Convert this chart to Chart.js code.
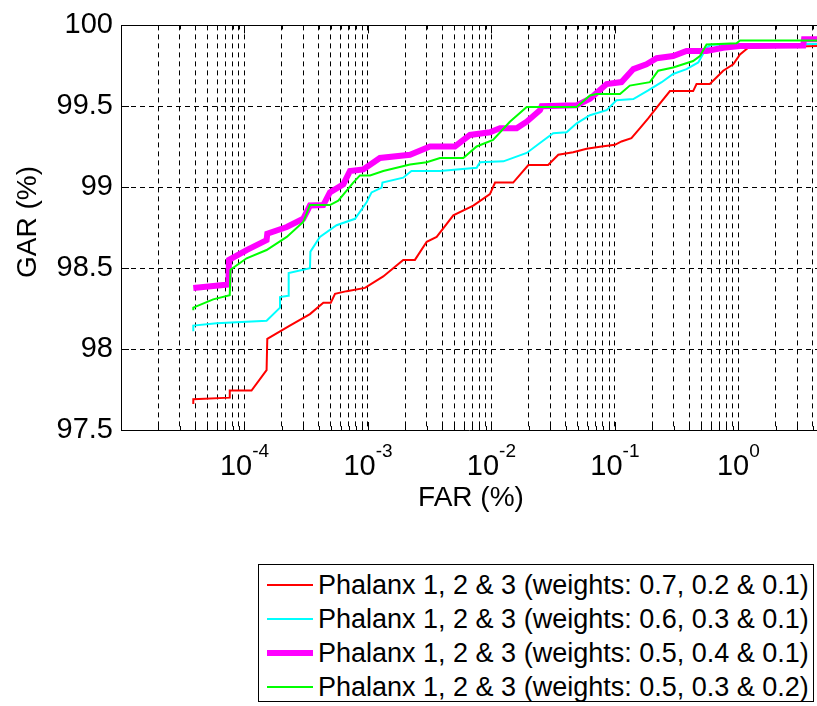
<!DOCTYPE html>
<html>
<head>
<meta charset="utf-8">
<script src="https://cdn.jsdelivr.net/npm/chart.js@4.4.1/dist/chart.umd.min.js"></script>
<style>
  body { margin: 0; background: #fff; }
  #wrap { position: relative; width: 817px; height: 706px; }
  #c { position: absolute; left: 0; top: 0; }
  #legend {
    position: absolute; left: 258px; top: 564px; width: 556px; height: 138px;
    border: 1px solid #000; background: #fff; box-sizing: border-box;
    font-family: "Liberation Sans", Arial, sans-serif; font-size: 27px; color: #000;
    padding-top: 3px;
  }
  .row { display: flex; align-items: center; height: 34px; white-space: nowrap; }
  .swatch { margin-left: 8px; width: 46px; margin-right: 5px; }
</style>
</head>
<body>
<div id="wrap">
  <canvas id="c" width="817" height="706"></canvas>
  <div id="legend"></div>
</div>
<script>
// FAR (%) on a log axis, GAR (%) on a linear axis
var redFar = [3.85e-5, 3.85e-5, 7.6e-5, 7.6e-5, 1.14e-4, 1.51e-4, 1.53e-4, 2.33e-4, 3.39e-4, 4.35e-4, 5.0e-4, 5.41e-4, 6.73e-4, 9.46e-4, 1.33e-3, 1.93e-3, 2.4e-3, 2.99e-3, 3.6e-3, 4.91e-3, 7.13e-3, 9.72e-3, 1.07e-2, 1.5e-2, 1.99e-2, 2.88e-2, 3.48e-2, 4.59e-2, 5.9e-2, 7.8e-2, 0.1, 0.113, 0.136, 0.159, 0.186, 0.231, 0.279, 0.43, 0.458, 0.587, 0.753, 0.908, 1.03, 1.2, 4.33];
var redGar = [97.66, 97.69, 97.70, 97.744, 97.744, 97.87, 98.063, 98.145, 98.216, 98.287, 98.287, 98.341, 98.358, 98.378, 98.449, 98.551, 98.551, 98.663, 98.693, 98.826, 98.887, 98.957, 99.029, 99.029, 99.137, 99.137, 99.201, 99.216, 99.238, 99.252, 99.262, 99.283, 99.303, 99.364, 99.425, 99.516, 99.594, 99.594, 99.638, 99.638, 99.72, 99.76, 99.821, 99.862, 99.872];

var cyanFar = [3.85e-5, 3.85e-5, 5.96e-5, 1.51e-4, 1.94e-4, 1.94e-4, 2.26e-4, 2.28e-4, 3.39e-4, 3.42e-4, 4.08e-4, 5.57e-4, 7.85e-4, 9.75e-4, 1.07e-3, 1.29e-3, 1.31e-3, 1.93e-3, 2.25e-3, 3.83e-3, 7.59e-3, 8.07e-3, 1.25e-2, 1.93e-2, 2.47e-2, 3.16e-2, 4.06e-2, 4.9e-2, 6.28e-2, 8.57e-2, 0.103, 0.141, 0.186, 0.239, 0.296, 0.38, 0.473, 0.552, 0.6, 4.33];
var cyanGar = [98.11, 98.145, 98.159, 98.175, 98.256, 98.321, 98.33, 98.47, 98.5, 98.602, 98.693, 98.765, 98.805, 98.907, 98.968, 98.998, 99.029, 99.059, 99.1, 99.1, 99.12, 99.155, 99.16, 99.212, 99.273, 99.334, 99.34, 99.395, 99.445, 99.476, 99.537, 99.545, 99.598, 99.649, 99.7, 99.73, 99.771, 99.862, 99.88, 99.885];

var magFar = [3.85e-5, 7.4e-5, 7.5e-5, 1.04e-4, 1.51e-4, 1.53e-4, 2.2e-4, 2.99e-4, 3.39e-4, 4.35e-4, 4.92e-4, 6.31e-4, 7.14e-4, 9.16e-4, 1.25e-3, 2.19e-3, 3.18e-3, 5.06e-3, 6.7e-3, 9.72e-3, 1.17e-2, 1.6e-2, 1.93e-2, 2.47e-2, 2.55e-2, 4.9e-2, 6.28e-2, 8.57e-2, 0.113, 0.141, 0.18, 0.218, 0.296, 0.38, 0.552, 0.753, 1.03, 3.35, 3.4, 4.33];
var magGar = [98.378, 98.399, 98.551, 98.612, 98.673, 98.713, 98.754, 98.805, 98.887, 98.89, 98.968, 99.018, 99.1, 99.11, 99.181, 99.201, 99.252, 99.252, 99.323, 99.34, 99.364, 99.364, 99.405, 99.476, 99.5, 99.506, 99.547, 99.638, 99.65, 99.73, 99.76, 99.797, 99.811, 99.842, 99.842, 99.862, 99.872, 99.875, 99.915, 99.915];

var greenFar = [3.85e-5, 3.85e-5, 5.58e-5, 7.6e-5, 7.7e-5, 1.04e-4, 1.51e-4, 2.2e-4, 2.99e-4, 3.39e-4, 4.92e-4, 5.75e-4, 7.6e-4, 8.61e-4, 1.04e-3, 1.33e-3, 2.19e-3, 2.99e-3, 3.83e-3, 5.92e-3, 7.59e-3, 1.03e-2, 1.41e-2, 1.93e-2, 4.9e-2, 6.28e-2, 7.11e-2, 0.11, 0.132, 0.192, 0.224, 0.296, 0.43, 0.488, 0.552, 0.966, 1.03, 4.33];
var greenGar = [98.24, 98.256, 98.307, 98.333, 98.49, 98.561, 98.612, 98.693, 98.785, 98.89, 98.89, 98.917, 99.029, 99.073, 99.073, 99.1, 99.14, 99.155, 99.181, 99.181, 99.252, 99.293, 99.405, 99.496, 99.496, 99.567, 99.576, 99.576, 99.628, 99.649, 99.72, 99.74, 99.78, 99.811, 99.882, 99.89, 99.907, 99.907];

var seriesNames = [
    'Phalanx 1, 2 & 3 (weights: 0.7, 0.2 & 0.1)',
    'Phalanx 1, 2 & 3 (weights: 0.6, 0.3 & 0.1)',
    'Phalanx 1, 2 & 3 (weights: 0.5, 0.4 & 0.1)',
    'Phalanx 1, 2 & 3 (weights: 0.5, 0.3 & 0.2)'
];
var seriesColors = ['#ff0000', '#00ffff', '#ff00ff', '#00ff00'];
var seriesWidths = [2, 2, 6, 2];

var xMin = 1e-5, xMax = 4.33;
var yMin = 97.5, yMax = 100, yStep = 0.5;
var decadeExps = [-4, -3, -2, -1, 0];
var FONT = '"Liberation Sans", Arial, sans-serif';

function pairs(xs, ys) {
    var out = [];
    for (var i = 0; i < xs.length; i++) out.push({ x: xs[i], y: ys[i] });
    return out;
}

var allFar = [redFar, cyanFar, magFar, greenFar];
var allGar = [redGar, cyanGar, magGar, greenGar];
var datasets = [];
for (var i = 0; i < 4; i++) {
    datasets.push({
        label: seriesNames[i],
        data: pairs(allFar[i], allGar[i]),
        borderColor: seriesColors[i],
        backgroundColor: seriesColors[i],
        borderWidth: seriesWidths[i],
        pointRadius: 0,
        tension: 0,
        order: 4 - i
    });
}

// log ticks: 1..9 per decade
function logTicks() {
    var t = [];
    for (var e = -5; e <= 0; e++) {
        for (var m = 1; m <= 9; m++) {
            var v = m * Math.pow(10, e);
            if (v >= xMin && v <= xMax) t.push(v);
        }
    }
    return t;
}

var matlabLook = {
    id: 'matlabLook',
    afterDraw: function (chart) {
        var ctx = chart.ctx, a = chart.chartArea;
        var xs = chart.scales.x, ys = chart.scales.y;
        ctx.save();
        ctx.strokeStyle = '#000';
        ctx.lineWidth = 1;
        ctx.setLineDash([]);
        // top box line
        ctx.beginPath();
        ctx.moveTo(a.left, Math.round(a.top) + 0.5);
        ctx.lineTo(a.right, Math.round(a.top) + 0.5);
        ctx.stroke();
        // inward tick marks
        logTicks().forEach(function (v) {
            var px = Math.round(xs.getPixelForValue(v)) + 0.5;
            var major = Math.abs(Math.log10(v) - Math.round(Math.log10(v))) < 1e-9;
            var len = major ? 8 : 4;
            ctx.beginPath();
            ctx.moveTo(px, a.bottom); ctx.lineTo(px, a.bottom - len);
            ctx.moveTo(px, a.top); ctx.lineTo(px, a.top + len);
            ctx.stroke();
        });
        for (var g = yMin; g <= yMax + 1e-9; g += yStep) {
            var py = Math.round(ys.getPixelForValue(g)) + 0.5;
            ctx.beginPath();
            ctx.moveTo(a.left, py); ctx.lineTo(a.left + 8, py);
            ctx.stroke();
        }
        // x tick labels 10^e
        ctx.fillStyle = '#000';
        ctx.textBaseline = 'alphabetic';
        ctx.textAlign = 'left';
        decadeExps.forEach(function (e) {
            var px = xs.getPixelForValue(Math.pow(10, e));
            ctx.font = '29px ' + FONT;
            var w1 = ctx.measureText('10').width;
            ctx.font = '19px ' + FONT;
            var w2 = ctx.measureText(String(e)).width;
            var start = px - (w1 + w2) / 2;
            ctx.font = '29px ' + FONT;
            ctx.fillText('10', start, 475);
            ctx.font = '19px ' + FONT;
            ctx.fillText(String(e), start + w1, 457);
        });
        // axis titles
        ctx.font = '28px ' + FONT;
        ctx.textAlign = 'center';
        ctx.fillText('FAR (%)', 471, 506);
        ctx.translate(36, 222);
        ctx.rotate(-Math.PI / 2);
        ctx.fillText('GAR (%)', 0, 0);
        ctx.restore();
    }
};

var ctx = document.getElementById('c').getContext('2d');
var myChart = new Chart(ctx, {
    type: 'line',
    data: { datasets: datasets },
    options: {
        responsive: false,
        animation: false,
        devicePixelRatio: 1,
        layout: { padding: { left: 0, right: 0, top: 21, bottom: 276 } },
        plugins: { legend: { display: false }, tooltip: { enabled: false } },
        scales: {
            x: {
                type: 'logarithmic',
                min: xMin,
                max: xMax,
                afterBuildTicks: function (s) {
                    s.ticks = logTicks().map(function (v) { return { value: v }; });
                },
                afterFit: function (s) { s.height = 0; },
                ticks: { display: false },
                grid: { color: '#000', lineWidth: 1, drawTicks: false },
                border: { display: true, color: '#000', width: 1, dash: [5, 4] }
            },
            y: {
                type: 'linear',
                min: yMin,
                max: yMax,
                afterFit: function (s) { s.width = 121; },
                ticks: {
                    stepSize: yStep,
                    padding: 8,
                    color: '#000',
                    font: { family: FONT, size: 29 },
                    callback: function (v) { return String(v); }
                },
                grid: { color: '#000', lineWidth: 1, drawTicks: false },
                border: { display: true, color: '#000', width: 1, dash: [5, 4] }
            }
        }
    },
    plugins: [matlabLook]
});

// legend box below the axes
var legend = document.getElementById('legend');
seriesNames.forEach(function (name, i) {
    var row = document.createElement('div');
    row.className = 'row';
    var sw = document.createElement('div');
    sw.className = 'swatch';
    sw.style.height = seriesWidths[i] + 'px';
    sw.style.background = seriesColors[i];
    var tx = document.createElement('span');
    tx.textContent = name;
    row.appendChild(sw);
    row.appendChild(tx);
    legend.appendChild(row);
});
</script>
</body>
</html>
